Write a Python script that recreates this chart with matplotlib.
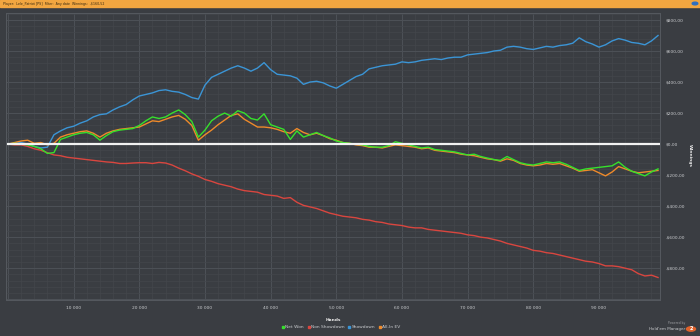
import matplotlib

matplotlib.use("Agg")

import matplotlib.pyplot as plt  # noqa: E402
import numpy as np  # noqa: E402
from matplotlib.lines import Line2D  # noqa: E402
from matplotlib.patches import Circle, Rectangle  # noqa: E402
from matplotlib.ticker import FuncFormatter, MultipleLocator  # noqa: E402

# Hands, one sample every 1000 hands
hands = np.arange(100) * 1000

showdown = [
    0, 5, 10, 0, -15, -25, -20, 60, 85, 105,
    115, 135, 150, 175, 190, 195, 220, 240, 255, 285,
    310, 320, 330, 345, 350, 340, 335, 320, 300, 290,
    380, 430, 450, 470, 490, 505, 490, 470, 490, 525,
    480, 450, 445, 440, 425, 385, 400, 405, 395, 375,
    360, 385, 410, 435, 450, 485, 495, 505, 510, 515,
    530, 525, 530, 540, 545, 550, 545, 555, 560, 560,
    575, 580, 585, 590, 600, 605, 625, 630, 625, 615,
    610, 620, 630, 625, 635, 640, 650, 685, 660, 645,
    625, 640, 665, 680, 670, 655, 650, 640, 665, 700,
]

non_showdown = [
    0, -5, -5, -15, -30, -40, -55, -70, -75, -85,
    -90, -95, -100, -105, -110, -115, -118, -125, -125, -122,
    -120, -120, -125, -118, -122, -135, -155, -172, -192, -208,
    -228, -240, -255, -265, -275, -290, -300, -305, -310, -325,
    -330, -335, -350, -345, -375, -395, -405, -415, -430, -445,
    -455, -465, -470, -475, -485, -490, -500, -505, -515, -520,
    -525, -535, -540, -540, -550, -555, -560, -565, -570, -575,
    -585, -590, -600, -605, -615, -625, -640, -650, -660, -670,
    -685, -690, -700, -705, -715, -725, -735, -745, -755, -760,
    -770, -785, -785, -790, -800, -810, -835, -850, -845, -860,
]

net_won = [
    0, 5, 0, -5, -15, -30, -60, -55, 30, 45,
    60, 70, 75, 60, 25, 55, 80, 90, 95, 100,
    120, 150, 175, 165, 175, 200, 220, 190, 145, 45,
    90, 150, 180, 200, 180, 215, 200, 165, 155, 195,
    125, 110, 95, 30, 85, 45, 60, 75, 55, 40,
    20, 10, 5, 0, -5, -15, -20, -20, -10, 15,
    5, -5, -15, -25, -20, -35, -40, -45, -50, -60,
    -70, -65, -80, -90, -100, -105, -80, -100, -120, -130,
    -135, -125, -115, -120, -115, -130, -150, -170, -160, -155,
    -150, -145, -140, -115, -150, -175, -190, -205, -180, -160,
]

all_in_ev = [
    0, 10, 20, 25, 5, 10, -5, 5, 45, 60,
    70, 80, 85, 70, 45, 70, 85, 95, 100, 105,
    110, 130, 150, 145, 160, 175, 185, 160, 120, 25,
    60, 90, 125, 155, 185, 195, 160, 135, 110, 110,
    105, 95, 80, 70, 100, 75, 60, 70, 55, 35,
    25, 10, 5, -5, -10, -20, -20, -25, -15, -5,
    -10, -15, -20, -30, -25, -40, -45, -50, -55, -65,
    -70, -75, -85, -95, -100, -110, -95, -105, -125, -135,
    -140, -135, -125, -130, -125, -140, -155, -175, -170, -165,
    -185, -205, -180, -145, -160, -175, -185, -180, -175, -170,
]

SERIES = [
    ("Non Showdown", non_showdown, "#d9463f"),
    ("Showdown", showdown, "#3b95d6"),
    ("All-In EV", all_in_ev, "#ef8a2a"),
    ("Net Won", net_won, "#36e02c"),
]
LEGEND_ORDER = ["Net Won", "Non Showdown", "Showdown", "All-In EV"]

BG = "#3a3d42"
TEXT = "#c9cbce"
SMALL = 3.2


def money(value, _pos):
    if value < -900:
        return ""
    txt = f"{abs(value):,.2f}".replace(",", " ").replace(".", ",")
    return f"-${txt}" if value < 0 else f"${txt}"


fig = plt.figure(figsize=(7.0, 3.36), dpi=100, facecolor=BG)
ax = fig.add_axes([6 / 700, 1 - 300 / 336, 654 / 700, 287 / 336], facecolor=BG)

for label, values, color in SERIES:
    ax.plot(hands, values, color=color, linewidth=1.0, label=label)
ax.axhline(0.0, color="#f2f2f2", linewidth=1.6)

ax.set_xlim(-300, 99300)
ax.set_ylim(-1005, 845)
ax.xaxis.set_major_locator(MultipleLocator(10000))
ax.xaxis.set_minor_locator(MultipleLocator(2000))
ax.yaxis.set_major_locator(MultipleLocator(200))
ax.yaxis.set_minor_locator(MultipleLocator(40))
ax.xaxis.set_major_formatter(FuncFormatter(lambda v, _p: "" if v <= 0 else f"{int(v):,}".replace(",", " ")))
ax.yaxis.set_major_formatter(FuncFormatter(money))
ax.yaxis.tick_right()
ax.tick_params(which="both", length=0, labelsize=SMALL, colors=TEXT, pad=4)
ax.grid(True, which="major", color="#4d5157", linewidth=0.7)
ax.grid(True, which="minor", color="#43464c", linewidth=0.5)
ax.set_axisbelow(True)
for spine in ax.spines.values():
    spine.set_color("#55595f")
    spine.set_linewidth(0.7)

ax.set_xlabel("Hands", fontsize=SMALL, color="#e6e6e6", fontweight="bold", labelpad=6)
fig.text(690 / 700, 1 - 156 / 336, "Winnings", fontsize=SMALL, color="#e6e6e6", fontweight="bold",
         rotation=270, ha="center", va="center")

# legend under the chart
colors = {label: color for label, _v, color in SERIES}
handles = [
    Line2D([], [], linestyle="none", marker="s", markersize=2.0, color=colors[name], label=name)
    for name in LEGEND_ORDER
]
fig.legend(handles=handles, loc="center", bbox_to_anchor=(0.487, 1 - 327 / 336), ncol=4,
           frameon=False, fontsize=SMALL, labelcolor=TEXT, handletextpad=0.1, columnspacing=0.7,
           handlelength=0.8)

# header bar
fig.patches.append(Rectangle((0, 1 - 7 / 336), 1, 7 / 336, transform=fig.transFigure,
                             color="#f2a640", zorder=0))
fig.text(3 / 700, 1 - 3.6 / 336, "Player:  Lele_Patriot [PS]  Filter:  Any date  Winnings:  -$160,52",
         fontsize=2.3, color="#3a2a10", va="center", ha="left")
fig.patches.append(Circle((695 / 700, 1 - 3.5 / 336), 2.8 / 700, transform=fig.transFigure,
                          color="#2f6fc0", zorder=2))

# powered by
fig.text(685 / 700, 1 - 323 / 336, "Powered by", fontsize=2.2, color="#9a9ca0", ha="right", va="center")
fig.text(685 / 700, 1 - 329 / 336, "Hold'em Manager", fontsize=3.0, color="#c9cbce", ha="right", va="center")
fig.patches.append(Circle((691 / 700, 1 - 329 / 336), 4.5 / 700, transform=fig.transFigure,
                          color="#e0622a", zorder=2))
fig.text(691 / 700, 1 - 329 / 336, "2", fontsize=3.6, color="white", fontweight="bold", ha="center", va="center")

fig.savefig("out.png", dpi=100, facecolor=BG)
